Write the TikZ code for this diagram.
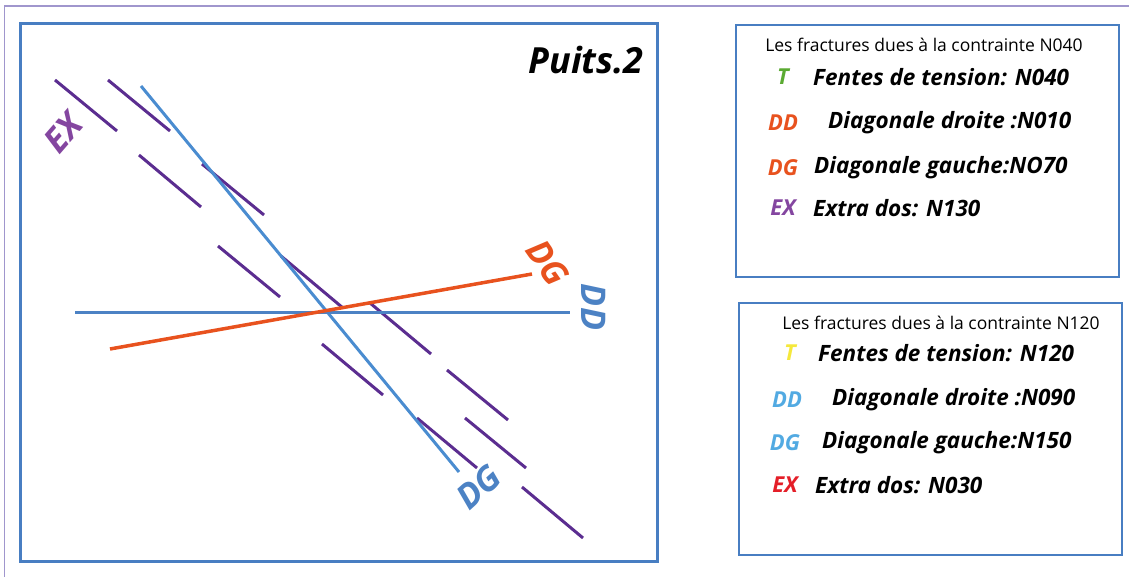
\documentclass[tikz,border=0pt]{standalone}
\usepackage{fontspec}
\setmainfont{Open Sans}

\definecolor{fracpurple}{RGB}{91,45,144}
\definecolor{expurple}{RGB}{132,70,160}
\definecolor{boxblue}{RGB}{72,126,194}
\definecolor{lineblue}{RGB}{74,140,208}
\definecolor{ddblue}{RGB}{76,130,196}
\definecolor{dgorange}{RGB}{232,82,30}
\definecolor{keygreen}{RGB}{90,170,50}
\definecolor{keyyellow}{RGB}{245,232,60}
\definecolor{keyblue}{RGB}{82,170,226}
\definecolor{keyred}{RGB}{228,30,40}
\definecolor{framelav}{RGB}{160,150,205}

\begin{document}
\begin{tikzpicture}[x=1pt,y=-1pt,
	fracline/.style={fracpurple, line width=3pt},
	tag/.style={inner sep=0pt, font=\fontsize{34}{34}\selectfont\bfseries\itshape},
	key/.style={inner sep=0pt, font=\fontsize{22}{22}\selectfont\bfseries\itshape},
	entry/.style={inner sep=0pt, anchor=west, font=\fontsize{22.5}{22.5}\selectfont\bfseries\itshape},
	heading/.style={inner sep=0pt, font=\fontsize{17.5}{17.5}\selectfont}]

	\useasboundingbox (0,0) rectangle (1129,577);

	% frames
	\draw [framelav, line width=1.5pt] (4.5,577) -- (4.5,6) -- (1129,6);
	\draw [boxblue, line width=3pt] (20,24) rectangle (657,561);
	\draw [boxblue, line width=2pt] (736,25) rectangle (1119,277);
	\draw [boxblue, line width=2pt] (739,303) rectangle (1122,555);

	\node (P) at (586,60) {\fontsize{36}{36}\selectfont\bfseries\itshape Puits.2};

	% extrados, en echelon segments
	\foreach \xa/\ya/\xb/\yb in {55/80/117/131, 108/80/170/131, 139/155/201/207,
		202/164/264/215, 218/246/280/297, 281/256/343/308, 370/303/431/354,
		322/344/383/395, 447/370/508/420, 417/418/477/468, 465/418/526/468,
		522/487/583/538}
		\draw [fracline] (\xa,\ya) -- (\xb,\yb);

	\draw [lineblue, line width=3pt] (141,86) -- (459,472);
	\draw [ddblue, line width=3pt] (75,312) -- (570,312);
	\draw [dgorange, line width=3.5pt] (110,349) -- (532,274);

	\node (T1)[tag,expurple,rotate=49] at (63,133) {EX};
	\node (T2)[tag,dgorange,rotate=-55] at (548,263) {DG};
	\node (T3)[tag,ddblue,rotate=-90] at (594,307) {DD};
	\node (T4)[tag,ddblue,rotate=42] at (479,487) {DG};

	% contrainte N040
	\node (H1)[heading] at (924,45) {Les fractures dues à la contrainte N040};
	\node (K1)[key,keygreen] at (783,77) {T};
	\node (K2)[key,dgorange] at (783,123) {DD};
	\node (K3)[key,dgorange] at (783,168) {DG};
	\node (K4)[key,expurple] at (783,208) {EX};
	\node (E1)[entry] at (813,77) {Fentes de tension: N040};
	\node (E2)[entry] at (828,123) {Diagonale droite :N010};
	\node (E3)[entry] at (814,168) {Diagonale gauche:NO70};
	\node (E4)[entry] at (813,208) {Extra dos: N130};

	% contrainte N120
	\node (H2)[heading] at (941,323) {Les fractures dues à la contrainte N120};
	\node (K5)[key,keyyellow] at (790,353) {T};
	\node (K6)[key,keyblue] at (787,400) {DD};
	\node (K7)[key,keyblue] at (785,443) {DG};
	\node (K8)[key,keyred] at (785,485) {EX};
	\node (E5)[entry] at (818,353) {Fentes de tension: N120};
	\node (E6)[entry] at (832,400) {Diagonale droite :N090};
	\node (E7)[entry] at (822,443) {Diagonale gauche:N150};
	\node (E8)[entry] at (815,485) {Extra dos: N030};

\end{tikzpicture}
\end{document}
